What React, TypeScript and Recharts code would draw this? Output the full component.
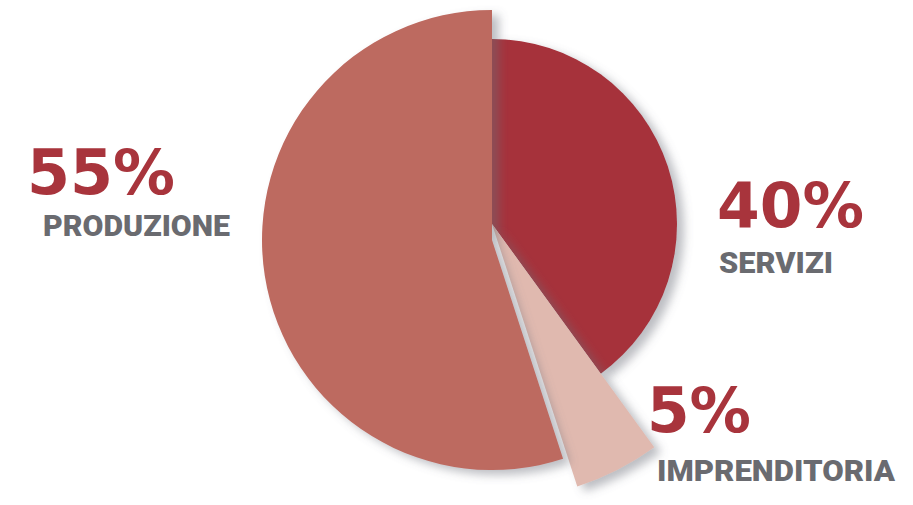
import { Cell, Pie, PieChart } from "recharts";

const categories = ["SERVIZI", "IMPRENDITORIA", "PRODUZIONE"];
const shares = [40, 5, 55];

const sliceColors = ["#A6303A", "#E0B9AF", "#BD6A60"];
const sliceRadius = [185, 276, 230];
const sliceCy = [224, 224, 240];
// draw order: servizi, imprenditoria, produzione on top
const drawOrder = [0, 1, 2];

// label placement: [x, pctBaseline, pctWidth, nameBaseline, nameX, nameWidth]
const labelPos = [
  [717, 227, 147, 273, 719, 114],
  [647, 432, 104, 481, 657, 238],
  [27, 194, 148, 236, 43, 187],
];

const data = categories.map((name, i) => ({ name, value: shares[i] }));

const App = () => {
  return (
    <div style={{ position: "absolute", left: 0, top: 0, width: 913, height: 505, background: "#fff" }}>
      <PieChart width={913} height={505} margin={{ top: 0, right: 0, bottom: 0, left: 0 }}>
        <defs>
          <filter id="sh" x="-30%" y="-30%" width="160%" height="160%">
            <feDropShadow dx="7" dy="5" stdDeviation="5" floodColor="#6b6e78" floodOpacity="0.45" />
          </filter>
        </defs>
        {drawOrder.map((k) => (
          <Pie
            key={k}
            data={data}
            dataKey="value"
            nameKey="name"
            cx={492}
            cy={sliceCy[k]}
            innerRadius={0}
            outerRadius={sliceRadius[k]}
            startAngle={90}
            endAngle={-270}
            stroke="none"
            isAnimationActive={false}
          >
            {data.map((d, i) => (
              <Cell
                key={d.name}
                fill={i === k ? sliceColors[k] : "transparent"}
                filter={i === k ? "url(#sh)" : undefined}
              />
            ))}
          </Pie>
        ))}
        {data.map((d, i) => {
          const [x, pb, pw, nb, nx, nw] = labelPos[i];
          return (
            <g key={"lbl" + d.name}>
              <text
                x={x}
                y={pb}
                fill="#A8343C"
                fontFamily="DejaVu Sans"
                fontWeight={700}
                fontSize={62}
                textLength={pw}
                lengthAdjust="spacingAndGlyphs"
              >
                {d.value}%
              </text>
              <text
                x={nx}
                y={nb}
                fill="#6A6B70"
                fontFamily="Roboto"
                fontWeight={900}
                fontSize={29}
                textLength={nw}
                lengthAdjust="spacingAndGlyphs"
              >
                {d.name}
              </text>
            </g>
          );
        })}
      </PieChart>
    </div>
  );
};

export default App;
